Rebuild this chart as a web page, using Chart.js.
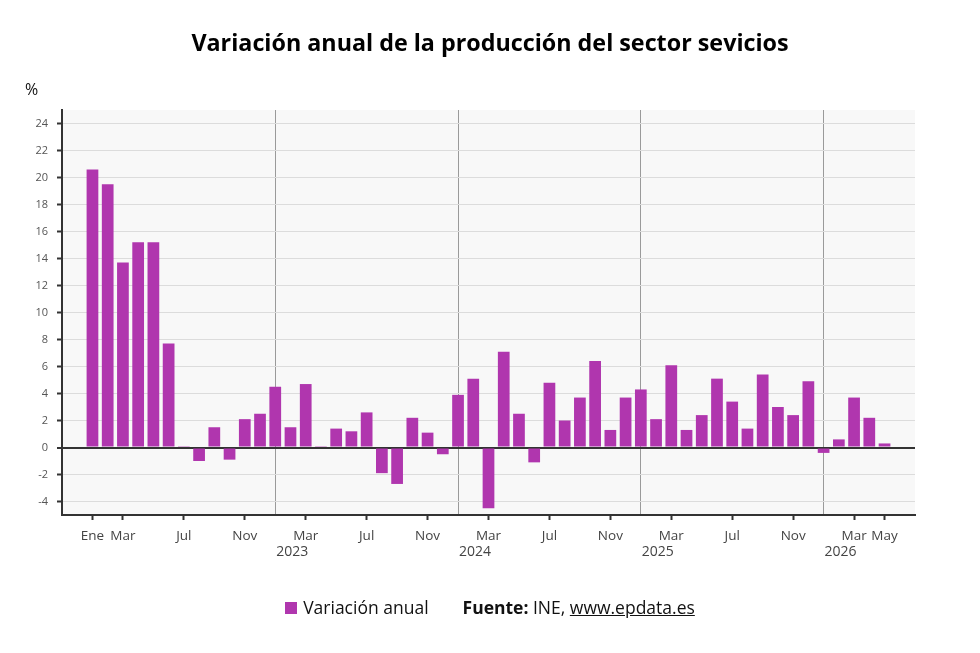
<!DOCTYPE html>
<html lang="es">
<head>
<meta charset="utf-8">
<title>Variación anual de la producción del sector sevicios</title>
<script src="https://cdn.jsdelivr.net/npm/chart.js@4/dist/chart.umd.min.js"></script>
<style>
  html, body { margin: 0; padding: 0; background: #fff; }
  #wrap { position: relative; width: 980px; height: 653px; }
  #title {
    position: absolute; left: 0; top: 27px; width: 980px; margin: 0;
    text-align: center; font-family: "Open Sans", sans-serif; font-size: 23.3px;
    font-weight: bold; line-height: 30px; color: #000;
  }
  #legend {
    position: absolute; left: 0; top: 595px; width: 980px;
    text-align: center; font-family: "Open Sans", sans-serif; font-size: 17.5px; color: #111;
  }
  #legend .sw { display: inline-block; width: 12px; height: 12px; background: #b036ae; margin-right: 6px; }
  #legend .src { margin-left: 34px; }
  #legend a { color: #111; text-decoration: underline; }
</style>
</head>
<body>
<div id="wrap">
  <h1 id="title">Variación anual de la producción del sector sevicios</h1>
  <canvas id="chart" width="980" height="653"></canvas>
  <div id="legend"><span class="sw"></span>Variación anual<span class="src"><b>Fuente:</b> INE, <a href="#">www.epdata.es</a></span></div>
</div>
<script>
/* --------------- Data --------------------- */
const categories = [
  "Ene 2022", "Feb 2022", "Mar 2022", "Abr 2022", "May 2022", "Jun 2022", "Jul 2022", "Ago 2022", "Sep 2022", "Oct 2022", "Nov 2022", "Dic 2022",
  "Ene 2023", "Feb 2023", "Mar 2023", "Abr 2023", "May 2023", "Jun 2023", "Jul 2023", "Ago 2023", "Sep 2023", "Oct 2023", "Nov 2023", "Dic 2023",
  "Ene 2024", "Feb 2024", "Mar 2024", "Abr 2024", "May 2024", "Jun 2024", "Jul 2024", "Ago 2024", "Sep 2024", "Oct 2024", "Nov 2024", "Dic 2024",
  "Ene 2025", "Feb 2025", "Mar 2025", "Abr 2025", "May 2025", "Jun 2025", "Jul 2025", "Ago 2025", "Sep 2025", "Oct 2025", "Nov 2025", "Dic 2025",
  "Ene 2026", "Feb 2026", "Mar 2026", "Abr 2026", "May 2026"
];
const variacion = [
  20.6, 19.5, 13.7, 15.2, 15.2, 7.7, 0.1, -1.0, 1.5, -0.9, 2.1, 2.5,
  4.5, 1.5, 4.7, 0.1, 1.4, 1.2, 2.6, -1.9, -2.7, 2.2, 1.1, -0.5,
  3.9, 5.1, -4.5, 7.1, 2.5, -1.1, 4.8, 2.0, 3.7, 6.4, 1.3, 3.7,
  4.3, 2.1, 6.1, 1.3, 2.4, 5.1, 3.4, 1.4, 5.4, 3.0, 2.4, 4.9,
  -0.4, 0.6, 3.7, 2.2, 0.3
];
/* --------------- Tick labels --------------------- */
const xTickLabels = [
  "Ene 2022", "Mar 2022", "Jul 2022", "Nov 2022",
  "Mar 2023", "Jul 2023", "Nov 2023",
  "Mar 2024", "Jul 2024", "Nov 2024",
  "Mar 2025", "Jul 2025", "Nov 2025",
  "Mar 2026", "May 2026"
];
const yearStarts = ["Ene 2023", "Ene 2024", "Ene 2025", "Ene 2026"];
const yearLabels = ["2023", "2024", "2025", "2026"];
const yTicks = [-4, -2, 0, 2, 4, 6, 8, 10, 12, 14, 16, 18, 20, 22, 24];

const labeledIdx = xTickLabels.map(c => categories.indexOf(c));
const yearIdx = yearStarts.map(c => categories.indexOf(c));
const xTickIdx = [...new Set(labeledIdx.concat(yearIdx))].sort((a, b) => a - b);

const BAR_COLOR = "#b036ae";
const TRANSPARENT = "rgba(0,0,0,0)";

/* --------------- Plugins --------------------- */
const plotBackground = {
  id: "plotBackground",
  beforeDraw(chart) {
    const { ctx, chartArea: a } = chart;
    ctx.save();
    ctx.fillStyle = "#f8f8f8";
    ctx.fillRect(a.left, a.top, a.right - a.left, a.bottom - a.top);
    ctx.restore();
  },
};
const extraText = {
  id: "extraText",
  afterDraw(chart) {
    const { ctx, chartArea: a } = chart;
    const x = chart.scales.x;
    ctx.save();
    ctx.fillStyle = "#111";
    ctx.font = "16px 'Open Sans', sans-serif";
    ctx.textAlign = "left";
    ctx.textBaseline = "middle";
    ctx.fillText("%", a.left - 37, a.top - 20);
    ctx.fillStyle = "#444";
    ctx.font = "14px 'Open Sans', sans-serif";
    yearIdx.forEach((idx, i) => {
      ctx.fillText(yearLabels[i], x.getPixelForValue(idx) + 1, a.bottom + 37);
    });
    ctx.restore();
  },
};

/* --------------- Chart --------------------- */
new Chart(document.getElementById("chart"), {
  type: "bar",
  plugins: [plotBackground, extraText],
  data: {
    datasets: [{
      label: "Variación anual",
      data: variacion.map((v, i) => ({ x: i, y: v })),
      backgroundColor: BAR_COLOR,
      borderWidth: 0,
      barPercentage: 0.77,
      categoryPercentage: 1,
    }],
  },
  options: {
    responsive: false,
    animation: false,
    layout: { padding: { left: 0, right: 65, top: 110, bottom: 78 } },
    plugins: {
      legend: { display: false },
      tooltip: { enabled: false },
      title: { display: false },
    },
    scales: {
      x: {
        type: "linear",
        min: -2,
        max: 54,
        offset: false,
        afterBuildTicks: (s) => { s.ticks = xTickIdx.map(v => ({ value: v })); },
        afterFit: (s) => { s.height = 60; },
        ticks: {
          autoSkip: false,
          maxRotation: 0,
          padding: 8,
          color: "#444",
          font: { family: "'Open Sans', sans-serif", size: 13.5 },
          callback: (v) => labeledIdx.includes(v) ? categories[v].split(" ")[0] : "",
        },
        grid: {
          offset: false,
          color: (c) => yearIdx.includes(c.tick && c.tick.value) ? "#9a9a9a" : TRANSPARENT,
          tickColor: (c) => labeledIdx.includes(c.tick && c.tick.value) ? "#333" : TRANSPARENT,
          tickLength: 5,
          tickWidth: 2,
          lineWidth: 1,
        },
        border: { color: "#333", width: 2 },
      },
      y: {
        min: -5,
        max: 25,
        afterBuildTicks: (s) => { s.ticks = yTicks.map(v => ({ value: v })); },
        afterFit: (s) => { s.width = 62; },
        ticks: {
          padding: 9,
          color: "#555",
          font: { family: "'Open Sans', sans-serif", size: 11 },
        },
        grid: {
          color: (c) => c.tick && c.tick.value === 0 ? "#333" : "#dcdcdc",
          lineWidth: (c) => c.tick && c.tick.value === 0 ? 2 : 1,
          tickColor: "#333",
          tickLength: 5,
          tickWidth: 2,
        },
        border: { color: "#333", width: 2 },
      },
    },
  },
});
</script>
</body>
</html>
